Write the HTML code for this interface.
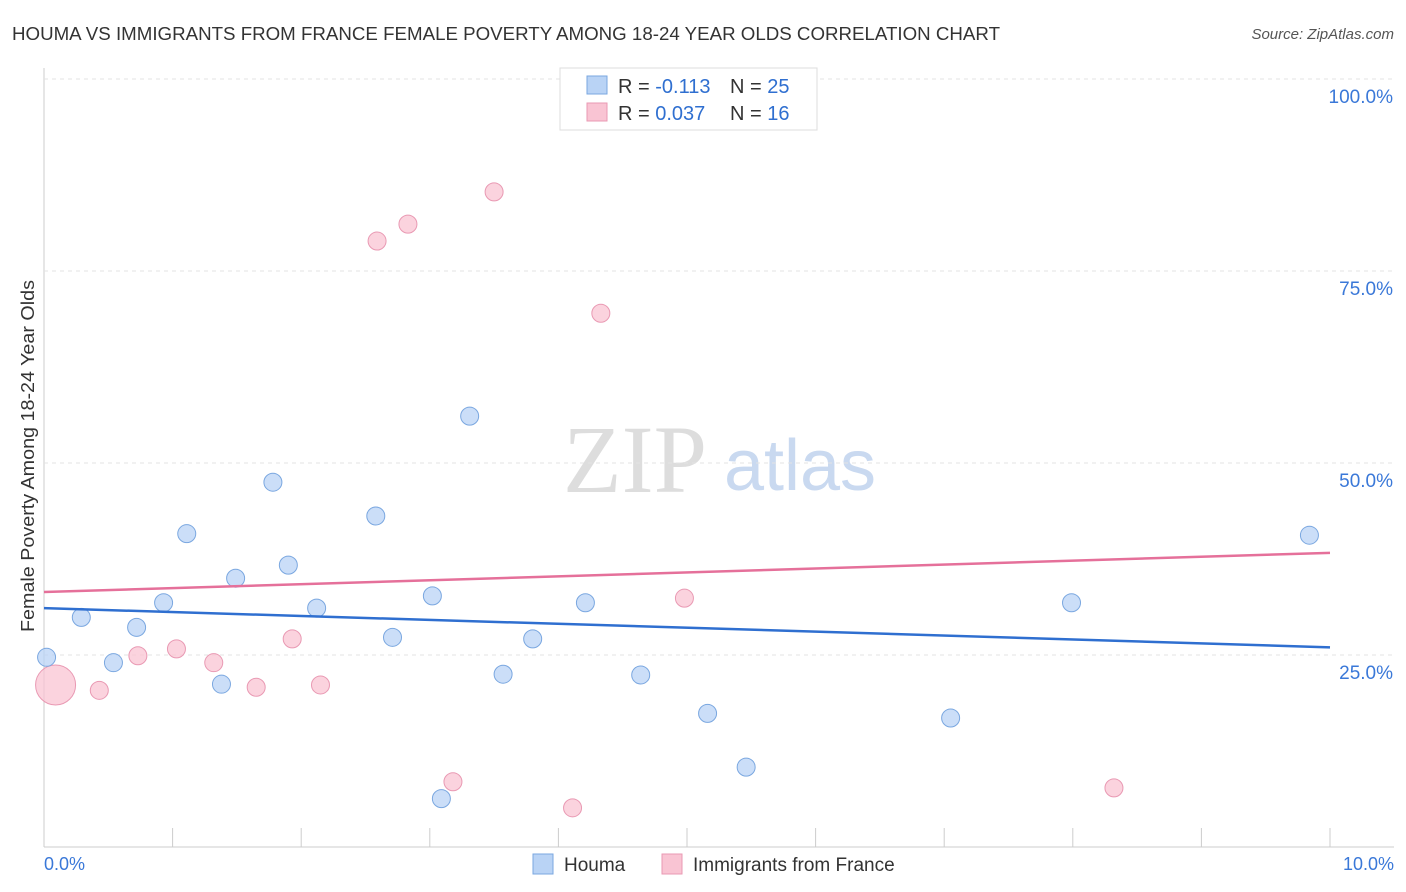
<!DOCTYPE html>
<html><head><meta charset="utf-8"><style>
body{margin:0;background:#fff;font-family:"Liberation Sans",sans-serif;}
#wrap{position:relative;width:1406px;height:892px;overflow:hidden;}
</style></head><body>
<div id="wrap">
<svg id="svg" width="1406" height="892" xmlns="http://www.w3.org/2000/svg">
<text x="12" y="40" font-size="18" fill="#333" textLength="988" lengthAdjust="spacingAndGlyphs">HOUMA VS IMMIGRANTS FROM FRANCE FEMALE POVERTY AMONG 18-24 YEAR OLDS CORRELATION CHART</text>
<text x="1394" y="39" font-size="15" fill="#555" text-anchor="end" font-style="italic">Source: ZipAtlas.com</text>
<text x="635" y="492" font-size="96" fill="#ddd" font-family="Liberation Serif,serif" text-anchor="middle">ZIP</text>
<text x="800" y="490" font-size="72" fill="#c9d9f0" text-anchor="middle">atlas</text>
<text transform="translate(34,456) rotate(-90)" font-size="18" fill="#333" text-anchor="middle" textLength="352" lengthAdjust="spacingAndGlyphs">Female Poverty Among 18-24 Year Olds</text>
<g id="grid"></g><g id="marks"></g>
<g>
<rect x="560" y="68" width="257" height="62" fill="#fff" stroke="#ddd"/>
<rect x="587" y="76" width="20" height="18" fill="#b9d3f5" stroke="#7aa7e0"/>
<rect x="587" y="103" width="20" height="18" fill="#f9c4d3" stroke="#e999b3"/>
<text x="618" y="93" font-size="20" fill="#333">R = <tspan fill="#2f6fd0">-0.113</tspan><tspan x="730">N = </tspan><tspan fill="#2f6fd0">25</tspan></text>
<text x="618" y="120" font-size="20" fill="#333">R = <tspan fill="#2f6fd0">0.037</tspan><tspan x="730">N = </tspan><tspan fill="#2f6fd0"> 16</tspan></text>
</g>
<g>
<rect x="533" y="854" width="20" height="20" fill="#b9d3f5" stroke="#7aa7e0"/>
<text x="564" y="871" font-size="19" fill="#333">Houma</text>
<rect x="662" y="854" width="20" height="20" fill="#f9c4d3" stroke="#e999b3"/>
<text x="693" y="871" font-size="19" fill="#333">Immigrants from France</text>
</g>
<text x="44" y="870" font-size="18" fill="#3a78d8">0.0%</text>
<text x="1394" y="870" font-size="18" fill="#3a78d8" text-anchor="end">10.0%</text>
</svg></div>
<script>
const yTicks=[25,50,75,100];
const yTickLabels=["25.0%","50.0%","75.0%","100.0%"];
const houmaX=[0.02,0.29,0.54,0.72,0.93,1.11,1.38,1.49,1.78,1.90,2.12,2.58,2.71,3.02,3.09,3.31,3.57,3.80,4.21,4.64,5.16,5.46,7.05,7.99,9.84];
const houmaY=[24.7,29.9,24.0,28.6,31.8,40.8,21.2,35.0,47.5,36.7,31.1,43.1,27.3,32.7,6.3,56.1,22.5,27.1,31.8,22.4,17.4,10.4,16.8,31.8,40.6];
const franceX=[0.09,0.43,0.73,1.03,1.32,1.65,1.93,2.15,2.59,2.83,3.18,3.50,4.11,4.33,4.98,8.32];
const franceY=[21.1,20.4,24.9,25.8,24.0,20.8,27.1,21.1,78.9,81.1,8.5,85.3,5.1,69.5,32.4,7.7];
const franceR=[20,9,9,9,9,9,9,9,9,9,9,9,9,9,9,9];
const houmaTrend=[31.1,26.0];
const franceTrend=[33.2,38.3];
const NS="http://www.w3.org/2000/svg";
const X=v=>44+v*128.6, Y=v=>847-v*7.68;
const grid=document.getElementById('grid'), marks=document.getElementById('marks');
function mk(t,a,p){const e=document.createElementNS(NS,t);for(const k in a)e.setAttribute(k,a[k]);p.appendChild(e);return e;}
let ax=mk('line',{x1:44,y1:68,x2:44,y2:847,stroke:'#ccc'},grid);


let bx=mk('line',{x1:44,y1:847,x2:1394,y2:847,stroke:'#ccc'},grid);


for(let i=1;i<=10;i++){let t=mk('line',{x1:X(i),y1:828,x2:X(i),y2:847,stroke:'#ccc'},grid);

}
yTicks.forEach((v,i)=>{let g=mk('line',{x1:44,y1:Y(v),x2:1394,y2:Y(v),stroke:'#e3e3e3','stroke-dasharray':'4,4'},grid);


let t=mk('text',{x:1393,y:Y(v)+24,'font-size':19,fill:'#3a78d8','text-anchor':'end'},grid);t.textContent=yTickLabels[i];

});
franceX.forEach((x,i)=>{let c=mk('circle',{cx:X(x),cy:Y(franceY[i]),r:franceR[i],fill:'#f9c4d3','fill-opacity':0.75,stroke:'#e999b3'},marks);

});
houmaX.forEach((x,i)=>{let c=mk('circle',{cx:X(x),cy:Y(houmaY[i]),r:9,fill:'#b9d3f5','fill-opacity':0.75,stroke:'#7aa7e0'},marks);

});
let l1=mk('line',{x1:X(0),y1:Y(houmaTrend[0]),x2:X(10),y2:Y(houmaTrend[1]),stroke:'#2f6fd0','stroke-width':2.5},marks);


let l2=mk('line',{x1:X(0),y1:Y(franceTrend[0]),x2:X(10),y2:Y(franceTrend[1]),stroke:'#e5709a','stroke-width':2.5},marks);


</script></body></html>
